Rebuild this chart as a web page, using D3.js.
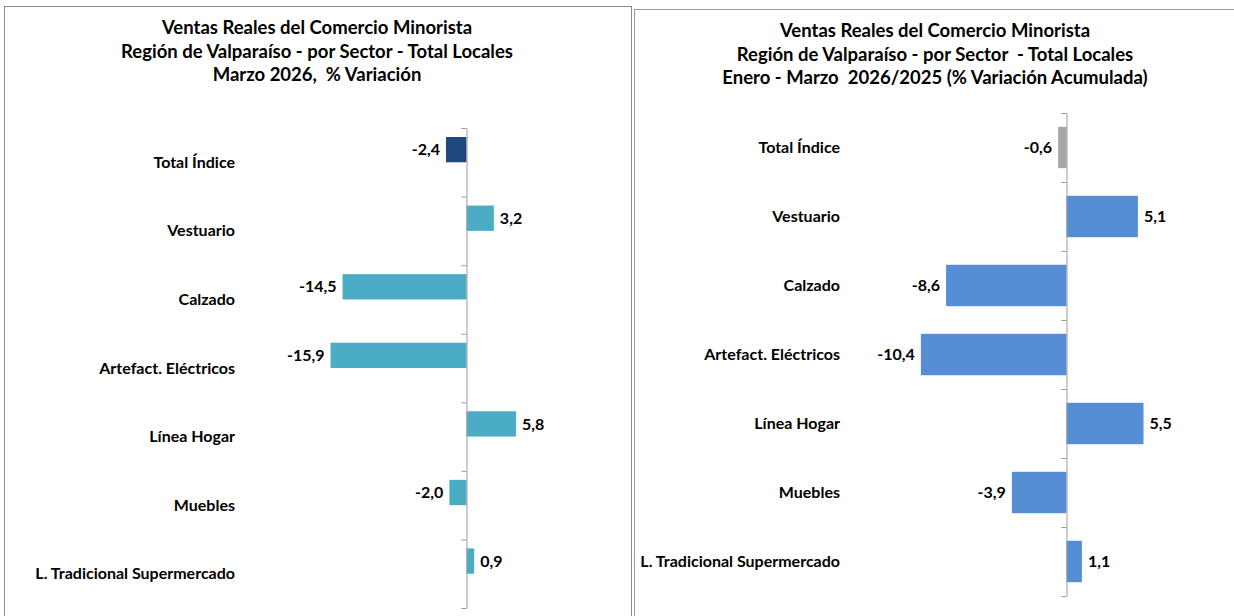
<!DOCTYPE html>
<html>
	<head>
		<meta charset="utf-8" />
		<title>ventas minoristas</title>
		<script src="https://cdn.jsdelivr.net/npm/d3@7"></script>
		<style>
			body { margin: 0; background: #fff; }
			text { font-family: Lato, "Open Sans", sans-serif; font-weight: bold; fill: #000; white-space: pre; }
		</style>
	</head>
	<body>
    <svg width="1234" height="616"></svg>
		<script>
    	// datos
    	var categorias = ["Total Índice", "Vestuario", "Calzado", "Artefact. Eléctricos", "Línea Hogar", "Muebles", "L. Tradicional Supermercado"]
    	var variacionMes = [-2.4, 3.2, -14.5, -15.9, 5.8, -2.0, 0.9]
    	var variacionAcum = [-0.6, 5.1, -8.6, -10.4, 5.5, -3.9, 1.1]
    	var tituloIzq = ["Ventas Reales del Comercio Minorista", "Región de Valparaíso - por Sector - Total Locales", "Marzo 2026,  % Variación"]
    	var tituloDer = ["Ventas Reales del Comercio Minorista", "Región de Valparaíso - por Sector  - Total Locales", "Enero - Marzo  2026/2025 (% Variación Acumulada)"]

    	var svg = d3.select("svg")

    	// formato con coma decimal
    	var fmt = d3.formatLocale({decimal: ",", thousands: ".", grouping: [3], currency: ["$", ""], minus: "-"}).format(".1f")

    	// marcos de los dos graficos
    	svg.append("rect").attr("x", 4.5).attr("y", 6.5).attr("width", 627).attr("height", 640)
    	   .attr("fill", "none").attr("stroke", "#8c8c8c")
    	svg.append("rect").attr("x", 634.5).attr("y", 9.5).attr("width", 640).attr("height", 640)
    	   .attr("fill", "none").attr("stroke", "#9a9a9a")

    	function grafico(cfg) {
    	  var g = svg.append("g")

    	  // titulo
    	  g.append("text")
    	    .attr("text-anchor", "middle")
    	    .style("font-size", "18.5px")
    	    .selectAll("tspan")
    	    .data(cfg.titulo)
    	    .enter()
    	    .append("tspan")
    	    .attr("x", cfg.cx)
    	    .attr("y", (d, i) => cfg.ty + i * 23.5)
    	    .text(d => d)

    	  var x = d3.scaleLinear().domain(cfg.dominio).range(cfg.rangoX)
    	  var y = d3.scaleBand().domain(categorias).range(cfg.rangoY)
    	            .paddingInner(cfg.padIn).paddingOuter(cfg.padOut)
    	  // banda completa (para etiquetas)
    	  var yb = d3.scaleBand().domain(categorias).range(cfg.rangoY)
    	  // dos series en Excel: la barra ocupa la primera posicion
    	  var slot = d3.scaleBand().domain(cfg.slots).range([0, y.step()]).paddingOuter(cfg.slotPad)

    	  var datos = categorias.map((c, i) => ({cat: c, v: cfg.valores[i], i: i}))

    	  var barY = d => cfg.slots.length > 1 ? yb(d.cat) + slot(cfg.slots[0]) : y(d.cat)
    	  var barH = cfg.slots.length > 1 ? slot.bandwidth() : y.bandwidth()

    	  g.selectAll(".bar")
    	    .data(datos)
    	    .enter()
    	    .append("rect")
    	    .attr("x", d => x(Math.min(0, d.v)))
    	    .attr("y", barY)
    	    .attr("width", d => Math.abs(x(d.v) - x(0)))
    	    .attr("height", barH)
    	    .attr("fill", d => d.i === 0 ? cfg.colorTotal : cfg.color)

    	  // eje vertical con marcas en los limites de categoria
    	  var idx = d3.scaleLinear().domain([0, categorias.length]).range(cfg.rangoY)
    	  var eje = g.append("g")
    	    .attr("transform", "translate(" + x(0) + ",0)")
    	    .call(d3.axisLeft(idx).tickValues(d3.range(categorias.length + 1)).tickSize(5).tickSizeOuter(0).tickFormat(""))
    	  eje.selectAll("line, path").attr("stroke", "#9a9a9a")

    	  // etiquetas de categoria
    	  g.selectAll(".cat")
    	    .data(datos)
    	    .enter()
    	    .append("text")
    	    .attr("x", cfg.labelX)
    	    .attr("y", d => yb(d.cat) + cfg.labelOff)
    	    .attr("dy", "0.35em")
    	    .attr("text-anchor", "end")
    	    .style("font-size", "16px")
    	    .text(d => d.cat)

    	  // valores
    	  g.selectAll(".val")
    	    .data(datos)
    	    .enter()
    	    .append("text")
    	    .attr("x", d => x(d.v) + (d.v < 0 ? -6 : 6))
    	    .attr("y", d => barY(d) + barH / 2)
    	    .attr("dy", "0.35em")
    	    .attr("text-anchor", d => d.v < 0 ? "end" : "start")
    	    .style("font-size", "16px")
    	    .text(d => fmt(d.v))
    	}

    	grafico({
    	  titulo: tituloIzq, cx: 317, ty: 34,
    	  valores: variacionMes, dominio: [-20, 10], rangoX: [295.5, 552],
    	  rangoY: [128, 608], padIn: 0, padOut: 0,
    	  slots: ["a", "b"], slotPad: 0.356,
    	  labelX: 235, labelOff: 34.3,
    	  color: "#4bacc6", colorTotal: "#1f497d"
    	})

    	grafico({
    	  titulo: tituloDer, cx: 935, ty: 37,
    	  valores: variacionAcum, dominio: [-12, 8], rangoX: [898.5, 1178.5],
    	  rangoY: [113, 596], padIn: 0.4, padOut: 0.2,
    	  slots: ["a"], slotPad: 0,
    	  labelX: 840, labelOff: 34.5,
    	  color: "#558ed5", colorTotal: "#a5a5a5"
    	})
		</script>
	</body>
</html>
